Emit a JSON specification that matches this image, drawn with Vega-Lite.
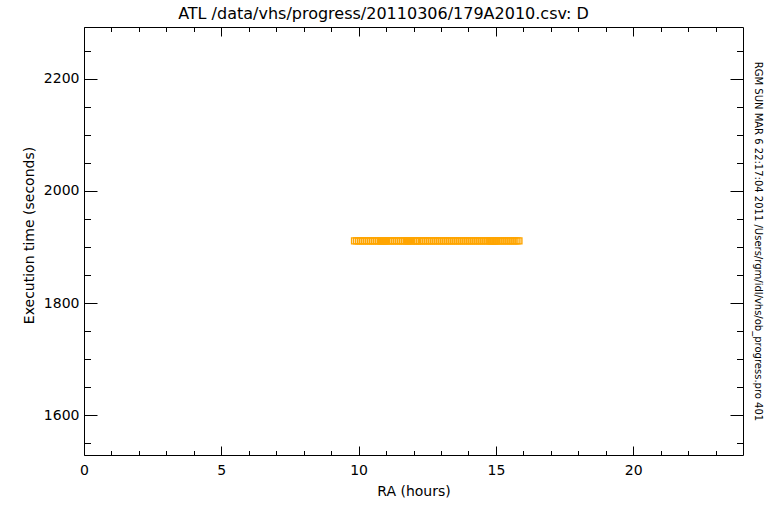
{
  "$schema": "https://vega.github.io/schema/vega-lite/v6.json",
  "width": 659,
  "height": 428,
  "autosize": {"type": "none"},
  "padding": {"left": 84, "top": 27, "right": 25, "bottom": 57},
  "background": "white",
  "title": {
    "text": "ATL /data/vhs/progress/20110306/179A2010.csv: D",
    "font": "DejaVu Sans",
    "fontSize": 16,
    "fontWeight": "normal",
    "color": "black",
    "anchor": "middle",
    "baseline": "alphabetic",
    "offset": 8,
    "dx": -30,
    "dy": 16
  },
  "config": {
    "view": {"stroke": "black", "strokeWidth": 1},
    "axis": {
      "domain": false,
      "grid": false,
      "tickColor": "black",
      "tickWidth": 1,
      "labelColor": "black",
      "labelFont": "DejaVu Sans",
      "labelFontSize": 14,
      "labelFlush": false,
      "labelOverlap": false,
      "labelBound": false,
      "titleColor": "black",
      "titleFont": "DejaVu Sans",
      "titleFontSize": 14,
      "titleFontWeight": "normal"
    }
  },
  "data": {
    "values": [
      {"ra": 9.854, "t": 1911}, {"ra": 9.927, "t": 1911}, {"ra": 10.0, "t": 1911}, {"ra": 10.073, "t": 1911},
      {"ra": 10.146, "t": 1911}, {"ra": 10.219, "t": 1911}, {"ra": 10.292, "t": 1911}, {"ra": 10.365, "t": 1911},
      {"ra": 10.438, "t": 1911}, {"ra": 10.511, "t": 1911}, {"ra": 10.584, "t": 1911}, {"ra": 10.657, "t": 1911},
      {"ra": 10.73, "t": 1911}, {"ra": 10.803, "t": 1911}, {"ra": 10.839, "t": 1911}, {"ra": 10.876, "t": 1911},
      {"ra": 10.912, "t": 1911}, {"ra": 10.949, "t": 1911}, {"ra": 10.985, "t": 1911}, {"ra": 11.022, "t": 1911},
      {"ra": 11.095, "t": 1911}, {"ra": 11.168, "t": 1911}, {"ra": 11.241, "t": 1911}, {"ra": 11.314, "t": 1911},
      {"ra": 11.387, "t": 1911}, {"ra": 11.46, "t": 1911}, {"ra": 11.533, "t": 1911}, {"ra": 11.606, "t": 1911},
      {"ra": 11.679, "t": 1911}, {"ra": 11.752, "t": 1911}, {"ra": 11.788, "t": 1911}, {"ra": 11.825, "t": 1911},
      {"ra": 11.861, "t": 1911}, {"ra": 11.934, "t": 1911}, {"ra": 12.007, "t": 1911}, {"ra": 12.08, "t": 1911},
      {"ra": 12.117, "t": 1911}, {"ra": 12.153, "t": 1911}, {"ra": 12.226, "t": 1911}, {"ra": 12.299, "t": 1911},
      {"ra": 12.372, "t": 1911}, {"ra": 12.445, "t": 1911}, {"ra": 12.518, "t": 1911}, {"ra": 12.591, "t": 1911},
      {"ra": 12.664, "t": 1911}, {"ra": 12.737, "t": 1911}, {"ra": 12.81, "t": 1911}, {"ra": 12.883, "t": 1911},
      {"ra": 12.956, "t": 1911}, {"ra": 13.029, "t": 1911}, {"ra": 13.102, "t": 1911}, {"ra": 13.175, "t": 1911},
      {"ra": 13.248, "t": 1911}, {"ra": 13.321, "t": 1911}, {"ra": 13.394, "t": 1911}, {"ra": 13.467, "t": 1911},
      {"ra": 13.54, "t": 1911}, {"ra": 13.613, "t": 1911}, {"ra": 13.686, "t": 1911}, {"ra": 13.759, "t": 1911},
      {"ra": 13.832, "t": 1911}, {"ra": 13.905, "t": 1911}, {"ra": 13.978, "t": 1911}, {"ra": 14.051, "t": 1911},
      {"ra": 14.124, "t": 1911}, {"ra": 14.197, "t": 1911}, {"ra": 14.27, "t": 1911}, {"ra": 14.343, "t": 1911},
      {"ra": 14.416, "t": 1911}, {"ra": 14.489, "t": 1911}, {"ra": 14.562, "t": 1911}, {"ra": 14.635, "t": 1911},
      {"ra": 14.708, "t": 1911}, {"ra": 14.781, "t": 1911}, {"ra": 14.818, "t": 1911}, {"ra": 14.854, "t": 1911},
      {"ra": 14.891, "t": 1911}, {"ra": 14.927, "t": 1911}, {"ra": 14.964, "t": 1911}, {"ra": 15.0, "t": 1911},
      {"ra": 15.036, "t": 1911}, {"ra": 15.109, "t": 1911}, {"ra": 15.182, "t": 1911}, {"ra": 15.255, "t": 1911},
      {"ra": 15.328, "t": 1911}, {"ra": 15.401, "t": 1911}, {"ra": 15.474, "t": 1911}, {"ra": 15.547, "t": 1911},
      {"ra": 15.62, "t": 1911}, {"ra": 15.693, "t": 1911}, {"ra": 15.766, "t": 1911}, {"ra": 15.839, "t": 1911}
    ]
  },
  "resolve": {"axis": {"x": "independent", "y": "independent"}},
  "layer": [
    {
      "mark": {"type": "point", "shape": "square", "filled": false, "size": 36, "stroke": "#FFA500", "strokeWidth": 1.4, "opacity": 1},
      "encoding": {
        "x": {"field": "ra", "type": "quantitative",
          "scale": {"domain": [0, 24], "nice": false, "zero": false},
          "axis": {"orient": "bottom", "values": [0, 5, 10, 15, 20], "tickSize": -9, "labelPadding": 17, "format": "d",
            "title": "RA (hours)", "titleX": 329.5, "titleY": 36, "titleBaseline": "middle", "titleAlign": "center"}},
        "y": {"field": "t", "type": "quantitative",
          "scale": {"domain": [1528.7, 2292.7], "nice": false, "zero": false},
          "axis": {"orient": "left", "values": [1600, 1800, 2000, 2200], "tickSize": -13, "labelPadding": 18, "format": "d",
            "title": "Execution time (seconds)", "titleX": -55, "titleY": 208, "titleAngle": 270, "titleBaseline": "middle", "titleAlign": "center"}}
      }
    },
    {
      "mark": {"type": "point", "opacity": 0},
      "encoding": {
        "x": {"field": "ra", "type": "quantitative",
          "scale": {"domain": [0, 24], "nice": false, "zero": false},
          "axis": {"orient": "bottom", "values": [1, 2, 3, 4, 6, 7, 8, 9, 11, 12, 13, 14, 16, 17, 18, 19, 21, 22, 23], "tickSize": -4.5, "labels": false, "title": null}},
        "y": {"field": "t", "type": "quantitative",
          "scale": {"domain": [1528.7, 2292.7], "nice": false, "zero": false},
          "axis": {"orient": "left", "values": [1550, 1650, 1700, 1750, 1850, 1900, 1950, 2050, 2100, 2150, 2250], "tickSize": -6.5, "labels": false, "title": null}}
      }
    },
    {
      "mark": {"type": "point", "opacity": 0},
      "encoding": {
        "x": {"field": "ra", "type": "quantitative",
          "scale": {"domain": [0, 24], "nice": false, "zero": false},
          "axis": {"orient": "top", "values": [0, 5, 10, 15, 20], "tickSize": -9, "labels": false, "title": null}},
        "y": {"field": "t", "type": "quantitative",
          "scale": {"domain": [1528.7, 2292.7], "nice": false, "zero": false},
          "axis": {"orient": "right", "values": [1600, 1800, 2000, 2200], "tickSize": -13, "labels": false,
            "title": "RGM SUN MAR  6 22:17:04 2011  /Users/rgm/idl/vhs/ob_progress.pro  401",
            "titleFontSize": 10, "titleX": 14, "titleY": 214, "titleAngle": 90, "titleBaseline": "middle", "titleAlign": "center"}}
      }
    },
    {
      "mark": {"type": "point", "opacity": 0},
      "encoding": {
        "x": {"field": "ra", "type": "quantitative",
          "scale": {"domain": [0, 24], "nice": false, "zero": false},
          "axis": {"orient": "top", "values": [1, 2, 3, 4, 6, 7, 8, 9, 11, 12, 13, 14, 16, 17, 18, 19, 21, 22, 23], "tickSize": -4.5, "labels": false, "title": null}},
        "y": {"field": "t", "type": "quantitative",
          "scale": {"domain": [1528.7, 2292.7], "nice": false, "zero": false},
          "axis": {"orient": "right", "values": [1550, 1650, 1700, 1750, 1850, 1900, 1950, 2050, 2100, 2150, 2250], "tickSize": -6.5, "labels": false, "title": null}}
      }
    }
  ]
}
